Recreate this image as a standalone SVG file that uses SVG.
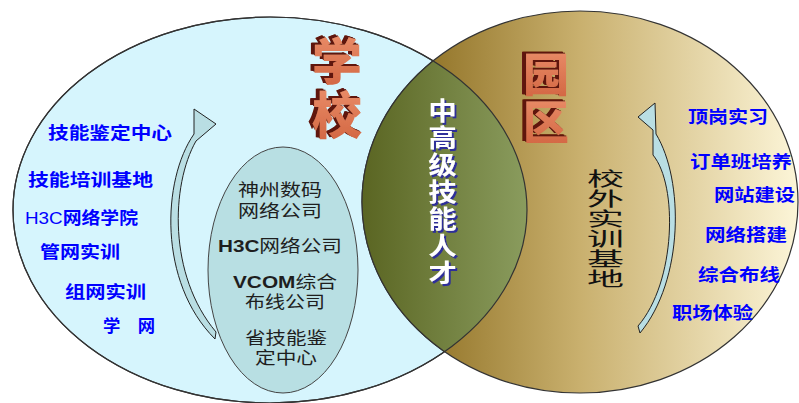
<svg xmlns="http://www.w3.org/2000/svg" width="799" height="403" viewBox="0 0 799 403">
<defs>
<linearGradient id="gPark" x1="362" y1="0" x2="798" y2="0" gradientUnits="userSpaceOnUse">
<stop offset="0" stop-color="#7C5C0C"/>
<stop offset="0.5" stop-color="#C9B06E"/>
<stop offset="1" stop-color="#FCF5D8"/>
</linearGradient>
<linearGradient id="gLens" x1="362" y1="0" x2="527" y2="0" gradientUnits="userSpaceOnUse">
<stop offset="0" stop-color="#5A6522"/>
<stop offset="1" stop-color="#8A9C5E"/>
</linearGradient>
<linearGradient id="gFace" x1="0" y1="0" x2="0" y2="1">
<stop offset="0" stop-color="#EE9470"/>
<stop offset="1" stop-color="#D0623E"/>
</linearGradient>
<clipPath id="clipLeft"><ellipse cx="270" cy="210" rx="257" ry="193"/></clipPath>
<filter id="ext3d" x="-30%" y="-30%" width="160%" height="160%">
<feOffset in="SourceAlpha" dx="-1.5" dy="-1" result="o1"/>
<feOffset in="SourceAlpha" dx="-3" dy="-2" result="o2"/>
<feOffset in="SourceAlpha" dx="-4" dy="-2.5" result="o3"/>
<feMerge result="m"><feMergeNode in="o1"/><feMergeNode in="o2"/><feMergeNode in="o3"/></feMerge>
<feFlood flood-color="#5E1208"/>
<feComposite in2="m" operator="in" result="shadow"/>
<feMerge><feMergeNode in="shadow"/><feMergeNode in="SourceGraphic"/></feMerge>
</filter>
<filter id="blueShadow" x="-30%" y="-10%" width="160%" height="120%">
<feOffset in="SourceAlpha" dx="2" dy="2" result="o"/>
<feFlood flood-color="#2E2E9A"/>
<feComposite in2="o" operator="in" result="s"/>
<feMerge><feMergeNode in="s"/><feMergeNode in="SourceGraphic"/></feMerge>
</filter>
<style>
.ol{stroke:#333;stroke-width:1.2}
.blue{font-family:"Noto Sans CJK SC","Liberation Sans",sans-serif;font-weight:bold;font-size:17px;fill:#0000FF}
.lat{font-family:"Liberation Sans",sans-serif;font-weight:normal}
.inner{font-family:"Noto Sans CJK SC","Liberation Sans",sans-serif;font-size:17px;fill:#1E1E1E}
.latb{font-family:"Liberation Sans",sans-serif;font-weight:bold}
.big{font-family:"Noto Sans CJK SC",sans-serif;font-weight:900;text-anchor:middle;dominant-baseline:central;fill:url(#gFace);filter:url(#ext3d)}
.arrow{fill:#B9DEE3;stroke:#222;stroke-width:1}
.vert{font-family:"Noto Sans CJK SC",sans-serif;text-anchor:middle;dominant-baseline:central}
</style>
</defs>

<g id="school">
<ellipse cx="270" cy="210" rx="257" ry="193" fill="#D6F5FD" class="ol"/>
</g>
<g id="park">
<ellipse cx="580" cy="202" rx="218" ry="191" fill="url(#gPark)" class="ol"/>
</g>
<g id="lens">
<ellipse cx="580" cy="202" rx="218" ry="191" fill="url(#gLens)" clip-path="url(#clipLeft)" class="ol"/>
<ellipse cx="270" cy="210" rx="257" ry="193" fill="none" class="ol"/>
</g>

<g id="partners">
<ellipse cx="283" cy="270" rx="75" ry="123" fill="#B8DFE3" stroke="#444" stroke-width="1"/>
<text class="inner" x="238" y="196" textLength="84" lengthAdjust="spacingAndGlyphs">神州数码</text>
<text class="inner" x="238" y="217" textLength="84" lengthAdjust="spacingAndGlyphs">网络公司</text>
<text class="inner" x="218" y="252" textLength="124" lengthAdjust="spacingAndGlyphs"><tspan class="latb">H3C</tspan>网络公司</text>
<text class="inner" x="233" y="288" textLength="104" lengthAdjust="spacingAndGlyphs"><tspan class="latb">VCOM</tspan>综合</text>
<text class="inner" x="245" y="308" textLength="80" lengthAdjust="spacingAndGlyphs">布线公司</text>
<text class="inner" x="245" y="344" textLength="82" lengthAdjust="spacingAndGlyphs">省技能鉴</text>
<text class="inner" x="255" y="364" textLength="62" lengthAdjust="spacingAndGlyphs">定中心</text>
</g>

<g id="connectors">
<path class="arrow" d="M194,109 L216,124 L196,141 C171,185 168,275 216,332 L215,339 C158,282 162,180 194,134 Z"/>
<path class="arrow" d="M638,117 L655,103 L656,134 C684,180 684,280 640,333 L638,326 C676,282 678,185 653,155 L653,130 Z"/>
</g>

<g id="school-items">
<text class="blue" x="48" y="139" textLength="124" lengthAdjust="spacingAndGlyphs">技能鉴定中心</text>
<text class="blue" x="28" y="186" textLength="125" lengthAdjust="spacingAndGlyphs">技能培训基地</text>
<text class="blue" x="25" y="224" textLength="113" lengthAdjust="spacingAndGlyphs"><tspan class="lat">H3C</tspan>网络学院</text>
<text class="blue" x="40" y="258" textLength="80" lengthAdjust="spacingAndGlyphs">管网实训</text>
<text class="blue" x="65" y="298" textLength="81" lengthAdjust="spacingAndGlyphs">组网实训</text>
<text class="blue" x="103" y="332" textLength="52" lengthAdjust="spacingAndGlyphs">学　网</text>
</g>

<g id="park-items">
<text class="blue" x="688" y="123" textLength="80" lengthAdjust="spacingAndGlyphs">顶岗实习</text>
<text class="blue" x="690" y="168" textLength="102" lengthAdjust="spacingAndGlyphs">订单班培养</text>
<text class="blue" x="714" y="201" textLength="81" lengthAdjust="spacingAndGlyphs">网站建设</text>
<text class="blue" x="705" y="241" textLength="82" lengthAdjust="spacingAndGlyphs">网络搭建</text>
<text class="blue" x="698" y="281" textLength="82" lengthAdjust="spacingAndGlyphs">综合布线</text>
<text class="blue" x="672" y="319" textLength="81" lengthAdjust="spacingAndGlyphs">职场体验</text>
</g>

<g id="title-school">
<text class="big" font-size="50" x="337" y="58">学</text>
<text class="big" font-size="50" x="337" y="112">校</text>
</g>

<g id="title-park">
<text class="big" font-size="46" x="546" y="71">园</text>
<text class="big" font-size="46" x="546" y="119">区</text>
</g>

<g id="talent" filter="url(#blueShadow)">
<g transform="translate(442.5,0) scale(1.14,1)">
<text class="vert" font-size="25" font-weight="bold" fill="#FFFFFF">
<tspan x="0" y="109">中</tspan><tspan x="0" y="136">高</tspan><tspan x="0" y="163">级</tspan><tspan x="0" y="190">技</tspan><tspan x="0" y="217">能</tspan><tspan x="0" y="244">人</tspan><tspan x="0" y="271">才</tspan>
</text>
</g>
</g>

<g id="offsite">
<g transform="translate(605.5,0) scale(1.95,1)">
<text class="vert" font-size="19" fill="#111111">
<tspan x="0" y="178">校</tspan><tspan x="0" y="198">外</tspan><tspan x="0" y="218">实</tspan><tspan x="0" y="238">训</tspan><tspan x="0" y="258">基</tspan><tspan x="0" y="278">地</tspan>
</text>
</g>
</g>
</svg>
